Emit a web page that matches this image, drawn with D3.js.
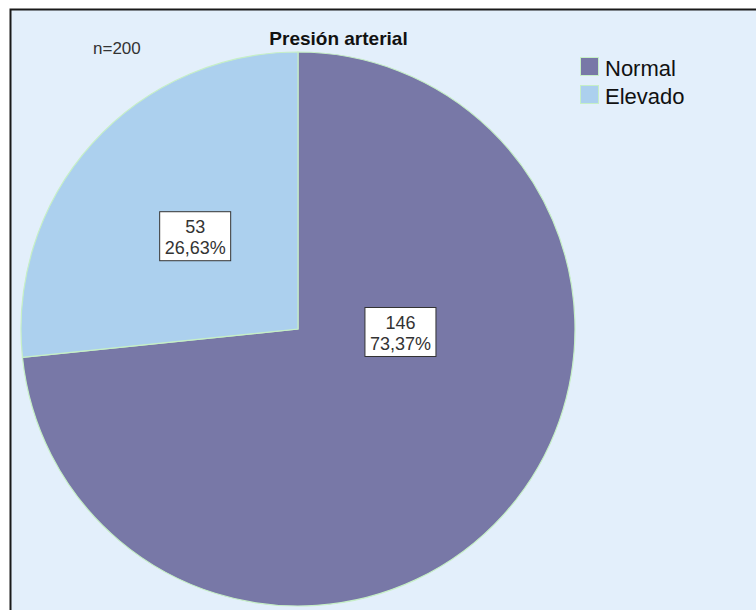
<!DOCTYPE html>
<html>
<head>
<meta charset="utf-8">
<script src="https://cdn.jsdelivr.net/npm/d3@7"></script>
<style>
  html, body { margin: 0; padding: 0; background: #ffffff; }
  svg { display: block; font-family: "Liberation Sans", Arial, sans-serif; }
</style>
</head>
<body>
<svg id="chart" width="756" height="610"></svg>
<script>
// Presión arterial: counts per category
const categories = ["Normal", "Elevado"];
const counts = [146, 53];
const colors = ["#7878a7", "#acd0ee"];
const percentLabels = ["73,37%", "26,63%"];
const sampleLabel = "n=200";
const title = "Presión arterial";

const W = 756, H = 610;
const cx = 298, cy = 329, R = 277;

const svg = d3.select("#chart");

// frame
svg.append("rect")
  .attr("x", 10.5).attr("y", 9.5)
  .attr("width", W + 20).attr("height", H + 20)
  .attr("fill", "#e3effb")
  .attr("stroke", "#1a1a1a").attr("stroke-width", 2);

const data = categories.map((c, i) => ({ cat: c, value: counts[i], color: colors[i], pct: percentLabels[i] }));

// Normal runs clockwise from 12 o'clock, Elevado fills the rest
const pie = d3.pie().sort(null).value(d => d.value);
const arcs = pie(data);
const arc = d3.arc().innerRadius(0).outerRadius(R);

const g = svg.append("g").attr("transform", `translate(${cx},${cy})`);

g.selectAll("path.slice")
  .data(arcs)
  .join("path")
  .attr("class", "slice")
  .attr("d", arc)
  .attr("fill", d => d.data.color)
  .attr("stroke", "#c6efc6")
  .attr("stroke-width", 1.2);

// label anchors: fraction of radius and angle (radians from 12 o'clock)
const labelAnchor = [
  { r: 0.37, a: 1.60 },
  { r: 0.50, a: null }
];

arcs.forEach((d, i) => {
  const la = labelAnchor[i];
  const ang = la.a !== null ? la.a : (d.startAngle + d.endAngle) / 2;
  const x = Math.sin(ang) * R * la.r;
  const y = -Math.cos(ang) * R * la.r;
  const lg = g.append("g").attr("transform", `translate(${x},${y})`);
  lg.append("rect")
    .attr("x", -35.5).attr("y", -24.5)
    .attr("width", 71).attr("height", 49)
    .attr("fill", "#ffffff")
    .attr("stroke", "#333333").attr("stroke-width", 1);
  lg.append("text")
    .attr("text-anchor", "middle")
    .attr("y", -3)
    .attr("font-size", 18)
    .attr("fill", "#333333")
    .text(d.data.value);
  lg.append("text")
    .attr("text-anchor", "middle")
    .attr("y", 18)
    .attr("font-size", 18)
    .attr("fill", "#333333")
    .text(d.data.pct);
});

// title and sample size
svg.append("text")
  .attr("x", 338.5).attr("y", 45)
  .attr("text-anchor", "middle")
  .attr("font-size", 19).attr("font-weight", "bold")
  .attr("fill", "#111111")
  .text(title);

svg.append("text")
  .attr("x", 93).attr("y", 54)
  .attr("font-size", 17)
  .attr("fill", "#333333")
  .text(sampleLabel);

// legend
const legend = svg.append("g").attr("transform", "translate(580,57)");
const items = legend.selectAll("g.item")
  .data(data)
  .join("g")
  .attr("class", "item")
  .attr("transform", (d, i) => `translate(0,${i * 28})`);
items.append("rect")
  .attr("x", 0.5).attr("y", 0.5)
  .attr("width", 18).attr("height", 18)
  .attr("fill", d => d.color)
  .attr("stroke", "#c6efc6").attr("stroke-width", 1);
items.append("text")
  .attr("x", 25).attr("y", 19)
  .attr("font-size", 22)
  .attr("fill", "#111111")
  .text(d => d.cat);
</script>
</body>
</html>
